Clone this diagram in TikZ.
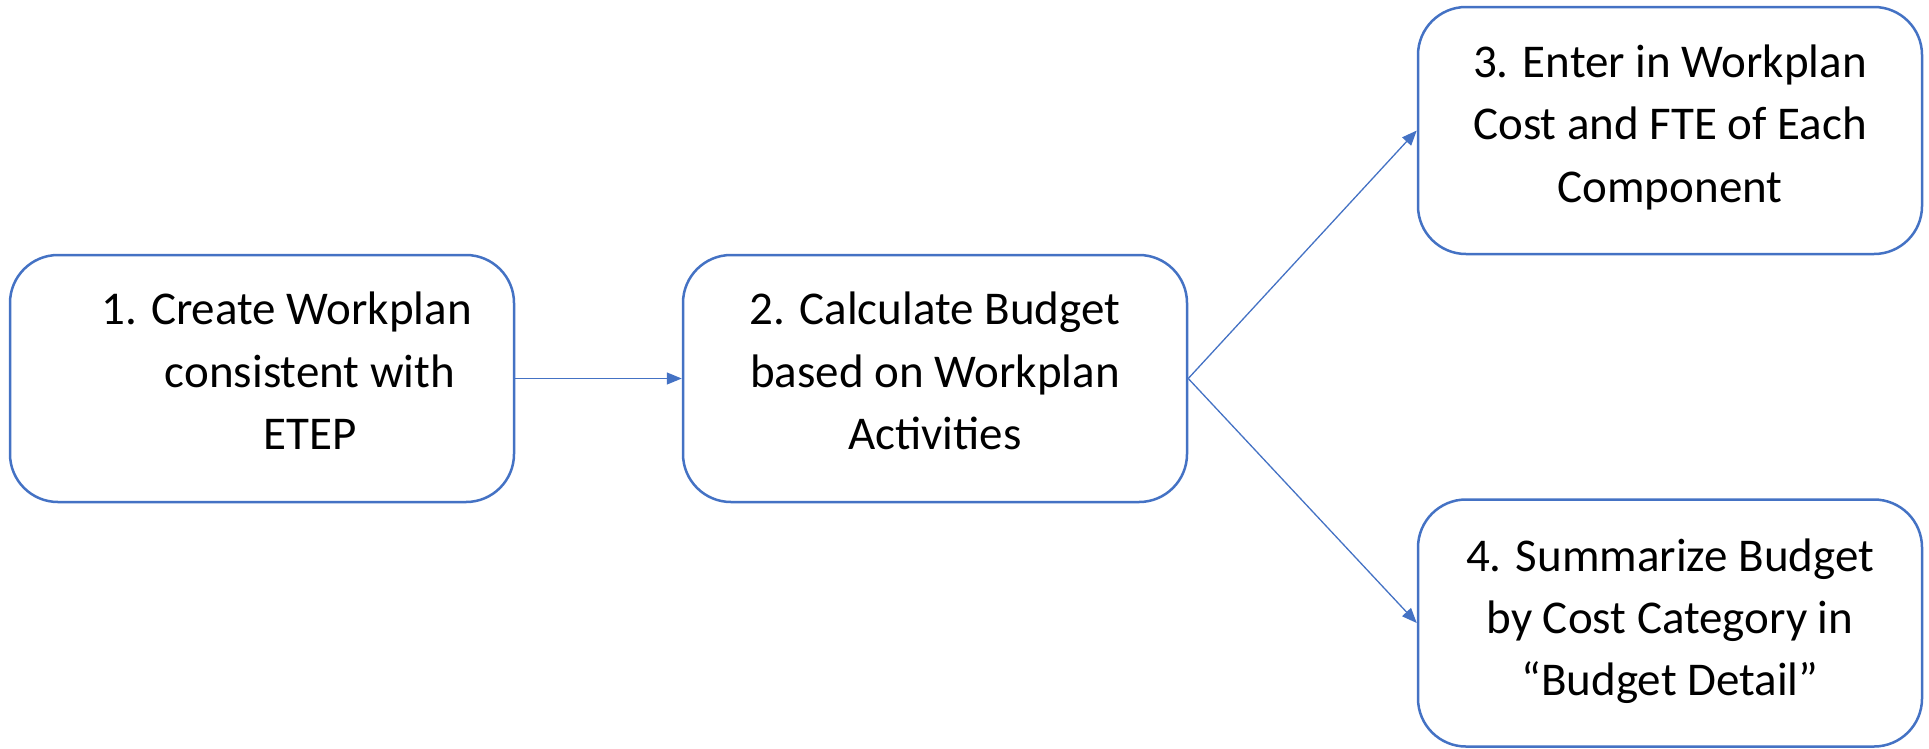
\documentclass[tikz,border=0pt]{standalone}
\usepackage{fontspec}
\setmainfont{Carlito}
\usetikzlibrary{arrows.meta}
\definecolor{officeblue}{HTML}{4472C4}
\tikzset{
  stepbox/.style={draw=officeblue, line width=2.5pt, rounded corners=48pt,
    rectangle, minimum width=504pt, minimum height=247pt, inner sep=0pt, fill=white},
  lbl/.style={anchor=base, inner sep=0pt, font=\fontsize{47}{56}\selectfont, text=black},
  conn/.style={draw=officeblue, line width=1.3pt, -{Triangle[length=15pt,width=12pt]}}
}
\begin{document}
\begin{tikzpicture}[x=1pt,y=-1pt]
\useasboundingbox (0,0) rectangle (1929,748);
\node[stepbox] (b1) at (262,378.5) {};
\node[stepbox] (b2) at (935,378.5) {};
\node[stepbox] (b3) at (1670,130.5) {};
\node[stepbox] (b4) at (1670,623) {};

\node[lbl, anchor=base west] (t1a) at (101,324) {1. Create Workplan};
\node[lbl] (t1b) at (310,387) {consistent with};
\node[lbl] (t1c) at (310,449) {ETEP};

\node[lbl] (t2a) at (935,324) {2. Calculate Budget};
\node[lbl] (t2b) at (935,387) {based on Workplan};
\node[lbl] (t2c) at (935,449) {Activities};

\node[lbl] (t3a) at (1670,77) {3. Enter in Workplan};
\node[lbl] (t3b) at (1670,139) {Cost and FTE of Each};
\node[lbl] (t3c) at (1670,202) {Component};

\node[lbl] (t4a) at (1670,571) {4. Summarize Budget};
\node[lbl] (t4b) at (1670,633) {by Cost Category in};
\node[lbl] (t4c) at (1670,695) {“Budget Detail”};

\draw[conn] (b1.east) -- (b2.west);
\draw[conn] (b2.east) -- (b3.west);
\draw[conn] (b2.east) -- (b4.west);
\end{tikzpicture}
\end{document}
